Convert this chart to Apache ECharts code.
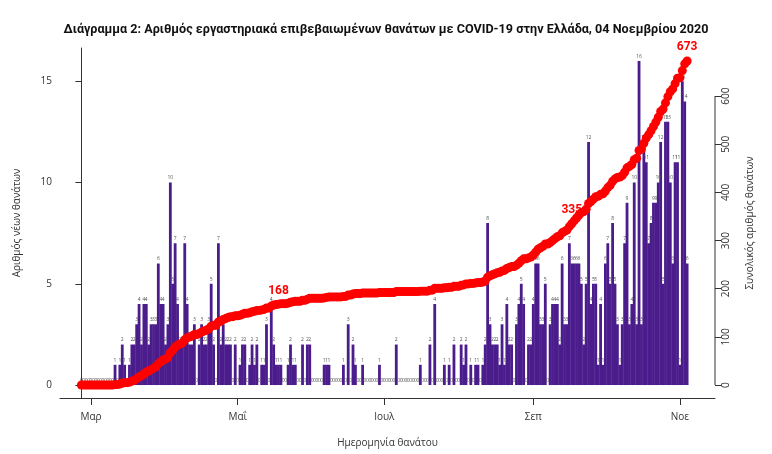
<!DOCTYPE html>
<html>
<head>
<meta charset="utf-8">
<script src="https://cdn.jsdelivr.net/npm/echarts@6/dist/echarts.min.js"></script>
<style>
    html, body { margin: 0; padding: 0; background: #fff; }
    #chart { width: 772px; height: 454px; }
</style>
</head>
<body>
<div id="chart"></div>
<script>
// θάνατοι ανά ημερομηνία θανάτου, 26 Φεβ - 04 Νοε 2020
const startDate = '2020-02-26'
const feb = [0, 0, 0, 0]
const mar = [0, 0, 0, 0, 0, 0, 0, 0, 0, 0, 1, 0, 1, 2, 1, 0, 1, 2, 2, 3, 4, 2, 4, 4, 2, 3, 3, 3, 6, 4, 4]
const apr = [2, 3, 10, 5, 7, 4, 2, 2, 7, 4, 2, 2, 3, 0, 2, 3, 2, 2, 3, 5, 2, 0, 7, 2, 3, 2, 2, 2, 0, 2]
const may = [0, 1, 2, 2, 0, 1, 2, 1, 2, 0, 1, 1, 3, 0, 4, 2, 1, 1, 1, 0, 0, 1, 2, 1, 1, 0, 0, 2, 0, 2, 2]
const jun = [0, 0, 0, 0, 0, 1, 1, 1, 0, 0, 0, 0, 0, 1, 0, 3, 0, 2, 1, 0, 0, 1, 0, 0, 0, 0, 0, 0, 1, 0]
const jul = [0, 0, 0, 0, 0, 2, 0, 0, 0, 0, 0, 0, 0, 0, 0, 1, 0, 0, 0, 2, 0, 4, 0, 0, 0, 1, 0, 1, 0, 2, 0]
const aug = [0, 2, 1, 2, 0, 1, 0, 1, 1, 0, 1, 2, 8, 3, 2, 2, 2, 1, 3, 1, 4, 2, 2, 0, 3, 4, 5, 4, 0, 2, 2]
const sep = [4, 6, 6, 3, 3, 5, 0, 3, 4, 4, 4, 2, 6, 3, 3, 7, 6, 6, 6, 6, 5, 2, 5, 12, 4, 5, 5, 1, 4, 1]
const oct = [6, 7, 5, 8, 5, 3, 1, 3, 7, 9, 3, 4, 10, 3, 16, 3, 12, 11, 7, 8, 9, 9, 10, 12, 5, 13, 13, 10, 6, 11, 11]
const nov = [1, 15, 14, 6]
const daily = [].concat(feb, mar, apr, may, jun, jul, aug, sep, oct, nov)

const tickDates = ['2020-03-01', '2020-05-01', '2020-07-01', '2020-09-01', '2020-11-01']
const tickLabels = ['Μαρ', 'Μαΐ', 'Ιουλ', 'Σεπ', 'Νοε']
const leftTicks = [0, 5, 10, 15]
const rightTicks = [0, 100, 200, 300, 400, 500, 600]
// σημεία με ετικέτα στη γραμμή του συνόλου
const markedTotals = [168, 335, 673]

const dayOf = s => Math.round((Date.parse(s) - Date.parse(startDate)) / 86400000)
const tickDays = tickDates.map(dayOf)

// σωρευτικό σύνολο
let run = 0
const total = daily.map(v => (run += v))
const markedIdx = markedTotals.map(t => total.findIndex(c => c >= t))

const xMin = -8.9
const xMax = 263.6
const axisColor = '#333'
const font = 'Open Sans, Noto Sans, sans-serif'

const chart = echarts.init(document.getElementById('chart'), null, { renderer: 'canvas' })

const option = {
    animation: false,
    title: {
        text: 'Διάγραμμα 2: Αριθμός εργαστηριακά επιβεβαιωμένων θανάτων με COVID-19 στην Ελλάδα, 04 Νοεμβρίου 2020',
        left: 'center',
        top: 18,
        textStyle: {
            fontFamily: 'Roboto, Noto Sans, sans-serif',
            fontSize: 12.6,
            fontWeight: 'bold',
            color: '#111'
        }
    },
    grid: { left: 60, right: 57, top: 48, bottom: 56 },
    xAxis: {
        type: 'value',
        min: xMin,
        max: xMax,
        name: 'Ημερομηνία θανάτου',
        nameLocation: 'middle',
        nameGap: 40,
        nameTextStyle: { fontFamily: font, fontSize: 10, color: axisColor },
        axisLine: { onZero: false, lineStyle: { color: axisColor } },
        axisTick: { customValues: tickDays, length: 7, lineStyle: { color: axisColor } },
        axisLabel: {
            customValues: tickDays,
            formatter: v => tickLabels[tickDays.indexOf(v)],
            fontFamily: font,
            fontSize: 10,
            color: axisColor,
            margin: 14
        },
        splitLine: { show: false }
    },
    yAxis: [
        {
            type: 'value',
            min: -0.64,
            max: 16.64,
            name: 'Αριθμός νέων θανάτων',
            nameLocation: 'middle',
            nameRotate: 90,
            nameGap: 38,
            nameTextStyle: { fontFamily: font, fontSize: 10, color: axisColor },
            axisLine: { show: true, lineStyle: { color: axisColor } },
            axisTick: { show: true, customValues: leftTicks, length: 6, lineStyle: { color: axisColor } },
            axisLabel: { customValues: leftTicks, fontFamily: font, fontSize: 10, color: axisColor, margin: 8 },
            splitLine: { show: false }
        },
        {
            type: 'value',
            position: 'right',
            min: -26.92,
            max: 699.92,
            name: 'Συνολικός αριθμός θανάτων',
            nameLocation: 'middle',
            nameRotate: 90,
            nameGap: 30,
            nameTextStyle: { fontFamily: font, fontSize: 10, color: axisColor },
            axisLine: { show: false },
            axisTick: { show: true, customValues: rightTicks, length: 6, lineStyle: { color: axisColor } },
            axisLabel: { customValues: rightTicks, rotate: 90, fontFamily: font, fontSize: 10, color: axisColor, margin: 6 },
            splitLine: { show: false }
        }
    ],
    series: [
        {
            type: 'bar',
            yAxisIndex: 0,
            barWidth: 2.8,
            itemStyle: { color: '#4b1c8c' },
            label: {
                show: true,
                position: 'top',
                distance: 2,
                fontSize: 5,
                fontFamily: font,
                color: '#555',
                formatter: p => p.value[1]
            },
            data: daily.map((v, i) => [i, v])
        },
        {
            type: 'line',
            yAxisIndex: 1,
            symbol: 'circle',
            symbolSize: 9,
            showAllSymbol: true,
            itemStyle: { color: '#ff0000' },
            lineStyle: { color: '#ff0000', width: 3 },
            z: 5,
            data: total.map((c, i) => {
                if (!markedIdx.includes(i)) return [i, c]
                return {
                    value: [i, c],
                    label: {
                        show: true,
                        position: 'top',
                        distance: 3,
                        formatter: String(c),
                        fontFamily: 'Roboto, sans-serif',
                        fontSize: 12,
                        fontWeight: 'bold',
                        color: '#ff0000'
                    }
                }
            })
        }
    ]
}

chart.setOption(option)

// ο δεξιός άξονας σχεδιάζεται μόνο από 0 έως 600
const p0 = chart.convertToPixel({ xAxisIndex: 0, yAxisIndex: 1 }, [xMax, rightTicks[0]])
const p1 = chart.convertToPixel({ xAxisIndex: 0, yAxisIndex: 1 }, [xMax, rightTicks[rightTicks.length - 1]])
chart.setOption({
    graphic: [{
        type: 'line',
        shape: { x1: p0[0], y1: p0[1], x2: p1[0], y2: p1[1] },
        style: { stroke: axisColor, lineWidth: 1 }
    }]
})
</script>
</body>
</html>
